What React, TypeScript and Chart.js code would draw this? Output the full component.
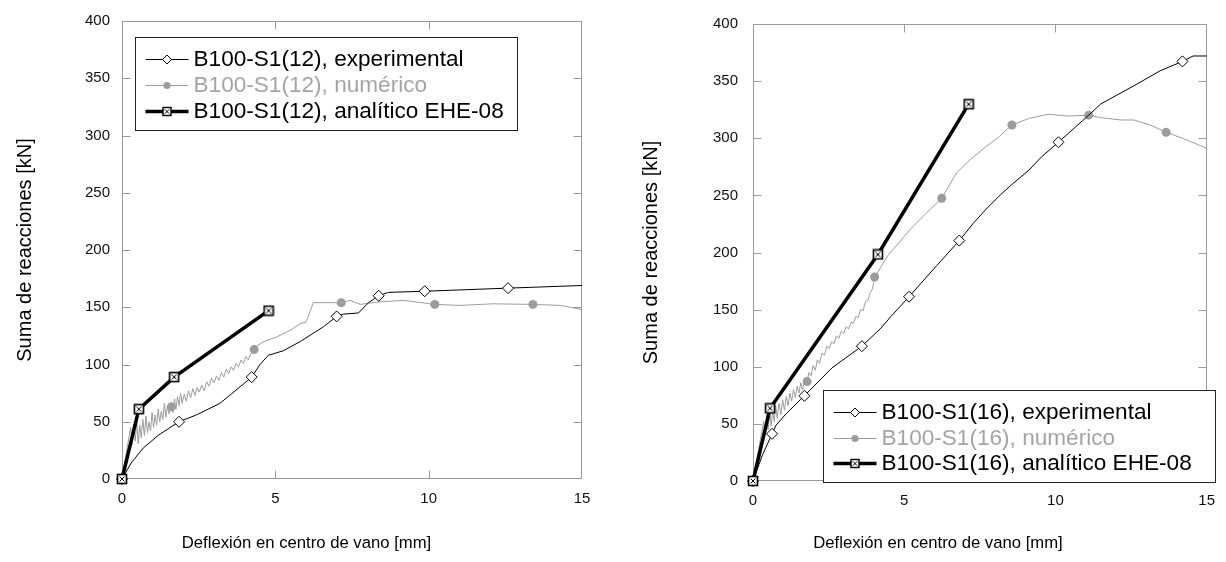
import React, { useEffect, useRef } from 'react';
import { Chart, registerables } from 'chart.js';

Chart.register(...registerables);

const FONT = "'Liberation Sans', Arial, Helvetica, sans-serif";

// ---------- shared axes ----------
const xTickValues = [0, 5, 10, 15];
const yTickValues = [0, 50, 100, 150, 200, 250, 300, 350, 400];
const xTitle = 'Deflexión en centro de vano [mm]';
const yTitle = 'Suma de reacciones [kN]';

// ---------- B100-S1(12) ----------
const labels12 = ['B100-S1(12), experimental', 'B100-S1(12), numérico', 'B100-S1(12), analítico EHE-08'];

const exp12X = [0, 0.3, 0.69, 1.2, 1.86, 2.43, 3.19, 3.85, 4.23, 4.5, 4.77, 5.26, 5.81, 6.57, 7.0, 7.22, 7.71, 8.04, 8.37, 8.69, 9.87, 12.59, 15];
const exp12Y = [0, 14, 27, 38.5, 50, 56, 66, 80.5, 89, 100, 108, 112, 120, 133, 142, 144, 145, 154, 160, 163, 164, 166.7, 169];
const exp12Marks = [0, 1.86, 4.23, 7.0, 8.37, 9.87, 12.59];

const num12X = [0, 0.28, 0.33, 0.38, 0.43, 0.48, 0.53, 0.58, 0.63, 0.68, 0.73, 0.78, 0.83, 0.88, 0.93, 0.98, 1.03, 1.08, 1.13, 1.18, 1.23, 1.28, 1.33, 1.38, 1.43, 1.48, 1.53, 1.61, 1.66, 1.71, 1.76, 1.81, 1.86, 1.91, 1.96, 2.03, 2.1, 2.17, 2.24, 2.31, 2.38, 2.45, 2.52, 2.6, 2.68, 2.76, 2.84, 2.92, 3.0, 3.08, 3.16, 3.24, 3.32, 3.4, 3.48, 3.56, 3.64, 3.72, 3.8, 3.88, 3.96, 4.04, 4.12, 4.2, 4.31, 4.4, 4.6, 5.04, 5.5, 5.81, 6.0, 6.24, 7.15, 7.44, 7.77, 8.31, 9.18, 10.2, 11.0, 12.1, 13.4, 14.3, 15];
const num12Y = [0, 45, 30, 48, 33, 50, 31, 47, 36, 52, 38, 55, 40, 50, 42, 58, 45, 56, 47, 61, 50, 59, 52, 66, 54, 64, 57, 63, 58, 70, 61, 72, 64, 75, 66, 74, 68, 77, 71, 79, 73, 80, 76, 82, 77, 85, 81, 88, 84, 90, 86, 93, 89, 96, 92, 98, 95, 101, 98, 104, 101, 107, 104, 110, 113, 116, 119.7, 124, 130, 135.7, 137, 154, 154, 156, 152.5, 154.5, 156, 152.5, 151.6, 153, 152.5, 151.6, 148];
const num12Marks = [1.61, 4.31, 7.15, 10.2, 13.4];

const ana12X = [0, 0.55, 1.7, 4.78];
const ana12Y = [0, 61, 89, 147];

// ---------- B100-S1(16) ----------
const labels16 = ['B100-S1(16), experimental', 'B100-S1(16), numérico', 'B100-S1(16), analítico EHE-08'];

const exp16X = [0, 0.3, 0.63, 0.76, 1.09, 1.7, 2.2, 2.61, 3.6, 4.23, 4.56, 5.16, 6.08, 6.82, 7.3, 7.71, 8.2, 8.58, 9.12, 9.55, 10.1, 11.1, 11.5, 12.6, 13.46, 14.2, 14.55, 15];
const exp16Y = [0, 22, 41.3, 48.8, 58.7, 74.6, 88, 99, 118, 133.8, 144, 161.3, 188.7, 210.4, 226, 238, 251, 260, 272, 284, 296.5, 320.2, 330, 346, 359, 367.3, 372, 372];
const exp16Marks = [0, 0.63, 1.7, 3.6, 5.16, 6.82, 10.1, 14.2];

const num16X = [0, 0.35, 0.4, 0.45, 0.5, 0.55, 0.6, 0.65, 0.7, 0.75, 0.8, 0.86, 0.92, 0.98, 1.04, 1.1, 1.16, 1.22, 1.28, 1.34, 1.4, 1.46, 1.52, 1.58, 1.64, 1.7, 1.79, 1.85, 1.92, 1.99, 2.06, 2.13, 2.2, 2.28, 2.36, 2.44, 2.52, 2.6, 2.68, 2.76, 2.84, 2.92, 3.0, 3.08, 3.16, 3.24, 3.32, 3.4, 3.48, 3.56, 3.64, 3.72, 3.8, 3.88, 3.95, 4.02, 4.2, 4.45, 5.21, 5.75, 6.24, 6.73, 7.17, 7.71, 8.14, 8.56, 9.12, 9.77, 10.42, 11.1, 11.5, 12.16, 12.6, 13.14, 13.66, 14.2, 15];
const num16Y = [0, 52, 40, 58, 45, 61, 48, 63, 52, 66, 55, 68, 58, 71, 62, 74, 66, 77, 70, 80, 73, 83, 77, 86, 80, 90, 87, 95, 92, 101, 97, 106, 103, 112, 110, 118, 116, 122, 120, 127, 125, 131, 129, 135, 133, 139, 138, 144, 143, 150, 149, 157, 158, 165, 168, 178.6, 186, 197, 220.5, 235, 247.4, 269.7, 281, 292.8, 301.4, 311.6, 317.3, 321, 319.4, 320.2, 318, 316, 316, 311.6, 305.2, 300, 291.3];
const num16Marks = [1.79, 4.02, 6.24, 8.56, 11.1, 13.66];

const ana16X = [0, 0.565, 4.13, 7.13];
const ana16Y = [0, 63.6, 198.3, 329.8];

// ---------- colours ----------
const BLACK = '#000000';
const GRAY = '#9c9c9c';
const GRAY_TEXT = '#a4a4a4';
const FRAME = '#9a9a9a';

// ---------- marker drawing ----------
function drawBoxX(ctx: CanvasRenderingContext2D, cx: number, cy: number, half: number, lw: number) {
  ctx.save();
  ctx.fillStyle = '#fff';
  ctx.fillRect(cx - half, cy - half, 2 * half, 2 * half);
  ctx.strokeStyle = '#000';
  ctx.lineWidth = lw;
  ctx.strokeRect(cx - half, cy - half, 2 * half, 2 * half);
  ctx.lineWidth = 1;
  const k = half * 0.55;
  ctx.beginPath();
  ctx.moveTo(cx - k, cy - k);
  ctx.lineTo(cx + k, cy + k);
  ctx.moveTo(cx + k, cy - k);
  ctx.lineTo(cx - k, cy + k);
  ctx.stroke();
  ctx.restore();
}

function makeBoxXImage(size: number) {
  const c = document.createElement('canvas');
  c.width = size;
  c.height = size;
  const g = c.getContext('2d') as CanvasRenderingContext2D;
  drawBoxX(g, size / 2, size / 2, size / 2 - 1.5, 1.6);
  return c;
}

function drawLegendMarker(ctx: CanvasRenderingContext2D, kind: string, x: number, y: number) {
  ctx.save();
  if (kind === 'diamond') {
    const s = 4.5;
    ctx.beginPath();
    ctx.moveTo(x - s, y);
    ctx.lineTo(x, y - s);
    ctx.lineTo(x + s, y);
    ctx.lineTo(x, y + s);
    ctx.closePath();
    ctx.fillStyle = '#fff';
    ctx.fill();
    ctx.strokeStyle = '#000';
    ctx.lineWidth = 1;
    ctx.stroke();
  } else if (kind === 'dot') {
    ctx.beginPath();
    ctx.arc(x, y, 3.6, 0, Math.PI * 2);
    ctx.fillStyle = GRAY;
    ctx.fill();
  } else if (kind === 'boxx') {
    drawBoxX(ctx, x, y, 4, 1.4);
  }
  ctx.restore();
}

// ---------- plugins ----------
const framePlugin = {
  id: 'frame',
  beforeDatasetsDraw(chart: any, _args: any, o: any) {
    const { ctx, chartArea: a, scales } = chart;
    ctx.save();
    ctx.strokeStyle = FRAME;
    ctx.lineWidth = 1;
    const L = Math.round(a.left) + 0.5;
    const R = Math.round(a.right) - 0.5;
    const T = Math.round(a.top) + 0.5;
    const B = Math.round(a.bottom) - 0.5;
    ctx.strokeRect(L, T, R - L, B - T);
    const tl = 8;
    ctx.beginPath();
    for (const t of scales.y.ticks) {
      if (t.value <= scales.y.min || t.value >= scales.y.max) continue;
      const py = Math.round(scales.y.getPixelForValue(t.value)) + 0.5;
      ctx.moveTo(L, py);
      ctx.lineTo(L + tl, py);
      ctx.moveTo(R, py);
      ctx.lineTo(R - tl, py);
    }
    for (const t of scales.x.ticks) {
      if (t.value <= scales.x.min || t.value >= scales.x.max) continue;
      const px = Math.round(scales.x.getPixelForValue(t.value)) + 0.5;
      ctx.moveTo(px, B);
      ctx.lineTo(px, B - tl);
      ctx.moveTo(px, T);
      ctx.lineTo(px, T + tl);
    }
    ctx.stroke();
    ctx.fillStyle = '#000';
    ctx.font = `16.7px ${FONT}`;
    ctx.textAlign = 'center';
    ctx.textBaseline = 'middle';
    ctx.fillText(xTitle, a.left + o.titleDx, o.titleY);
    ctx.restore();
  },
};

const boxLegendPlugin = {
  id: 'boxLegend',
  afterDatasetsDraw(chart: any, _args: any, o: any) {
    const { ctx, chartArea: a } = chart;
    const bx = Math.round(a.left + o.dx) + 0.5;
    const by = Math.round(a.top + o.dy) + 0.5;
    ctx.save();
    ctx.fillStyle = '#fff';
    ctx.fillRect(bx, by, o.w, o.h);
    ctx.strokeStyle = '#222';
    ctx.lineWidth = 1;
    ctx.strokeRect(bx, by, o.w, o.h);
    ctx.font = `22.6px ${FONT}`;
    ctx.textBaseline = 'middle';
    ctx.textAlign = 'left';
    chart.data.datasets.forEach((ds: any, i: number) => {
      const cy = Math.round(by + o.rows[i]) + 0.5;
      ctx.strokeStyle = ds.borderColor;
      ctx.lineWidth = ds.borderWidth;
      ctx.beginPath();
      ctx.moveTo(bx + 10, cy);
      ctx.lineTo(bx + 53, cy);
      ctx.stroke();
      drawLegendMarker(ctx, ds.marker, bx + 31.5, cy);
      ctx.fillStyle = ds.legendColor;
      ctx.fillText(ds.label, bx + 58, cy + 0.5);
    });
    ctx.restore();
  },
};

// ---------- config ----------
type Spec = {
  pageLeft: number;
  canvasW: number;
  padTop: number;
  padRight: number;
  yAxisW: number;
  xAxisH: number;
  yTickPad: number;
  yTitlePad: number;
  titleDx: number;
  titleY: number;
  legend: { dx: number; dy: number; w: number; h: number; rows: number[] };
  labels: string[];
  expX: number[]; expY: number[]; expMarks: number[];
  numX: number[]; numY: number[]; numMarks: number[];
  anaX: number[]; anaY: number[];
};

const pts = (xs: number[], ys: number[]) => xs.map((x, i) => ({ x, y: ys[i] }));
const radii = (xs: number[], marks: number[], r: number) => xs.map((x) => (marks.includes(x) ? r : 0));

function buildConfig(s: Spec): any {
  const boxImg = makeBoxXImage(12);
  return {
    type: 'line',
    data: {
      datasets: [
        {
          label: s.labels[0],
          marker: 'diamond',
          legendColor: BLACK,
          data: pts(s.expX, s.expY),
          borderColor: BLACK,
          borderWidth: 1,
          tension: 0,
          pointStyle: 'rectRot',
          pointRadius: radii(s.expX, s.expMarks, 5.5),
          pointBackgroundColor: '#ffffff',
          pointBorderColor: BLACK,
          pointBorderWidth: 1,
          clip: false,
          order: 1,
        },
        {
          label: s.labels[1],
          marker: 'dot',
          legendColor: GRAY_TEXT,
          data: pts(s.numX, s.numY),
          borderColor: GRAY,
          borderWidth: 1,
          tension: 0,
          pointStyle: 'circle',
          pointRadius: radii(s.numX, s.numMarks, 4.5),
          pointBackgroundColor: GRAY,
          pointBorderColor: GRAY,
          pointBorderWidth: 0,
          clip: false,
          order: 2,
        },
        {
          label: s.labels[2],
          marker: 'boxx',
          legendColor: BLACK,
          data: pts(s.anaX, s.anaY),
          borderColor: BLACK,
          borderWidth: 3.5,
          tension: 0,
          pointStyle: boxImg,
          pointRadius: 5,
          clip: false,
          order: 0,
        },
      ],
    },
    options: {
      responsive: false,
      animation: false,
      devicePixelRatio: 1,
      events: [],
      layout: { padding: { left: 0, top: s.padTop, right: s.padRight, bottom: 0 } },
      plugins: {
        legend: { display: false },
        tooltip: { enabled: false },
        frame: { titleDx: s.titleDx, titleY: s.titleY },
        boxLegend: s.legend,
      },
      scales: {
        x: {
          type: 'linear',
          min: 0,
          max: 15,
          afterBuildTicks: (sc: any) => {
            sc.ticks = xTickValues.map((v) => ({ value: v }));
          },
          afterFit: (sc: any) => {
            sc.height = s.xAxisH;
          },
          grid: { display: false, drawTicks: false },
          border: { display: false },
          ticks: { color: '#111', font: { family: FONT, size: 15 }, padding: 11, maxRotation: 0, autoSkip: false },
        },
        y: {
          type: 'linear',
          min: 0,
          max: 400,
          afterBuildTicks: (sc: any) => {
            sc.ticks = yTickValues.map((v) => ({ value: v }));
          },
          afterFit: (sc: any) => {
            sc.width = s.yAxisW;
          },
          grid: { display: false, drawTicks: false },
          border: { display: false },
          ticks: { color: '#111', font: { family: FONT, size: 15 }, padding: s.yTickPad, autoSkip: false },
          title: {
            display: true,
            text: yTitle,
            color: '#000',
            font: { family: FONT, size: 20 },
            padding: { top: s.yTitlePad, bottom: 0 },
          },
        },
      },
    },
    plugins: [framePlugin, boxLegendPlugin],
  };
}

const spec12: Spec = {
  pageLeft: 0,
  canvasW: 613,
  padTop: 19,
  padRight: 31,
  yAxisW: 122,
  xAxisH: 83,
  yTickPad: 12,
  yTitlePad: 13,
  titleDx: 184.5,
  titleY: 543,
  legend: { dx: 13, dy: 16, w: 382, h: 93, rows: [21, 47.3, 73.3] },
  labels: labels12,
  expX: exp12X, expY: exp12Y, expMarks: exp12Marks,
  numX: num12X, numY: num12Y, numMarks: num12Marks,
  anaX: ana12X, anaY: ana12Y,
};

const spec16: Spec = {
  pageLeft: 613,
  canvasW: 613,
  padTop: 20,
  padRight: 13,
  yAxisW: 140,
  xAxisH: 81,
  yTickPad: 15,
  yTitlePad: 26.7,
  titleDx: 185,
  titleY: 543,
  legend: { dx: 70, dy: 366, w: 392, h: 92, rows: [21.3, 47.3, 72.7] },
  labels: labels16,
  expX: exp16X, expY: exp16Y, expMarks: exp16Marks,
  numX: num16X, numY: num16Y, numMarks: num16Marks,
  anaX: ana16X, anaY: ana16Y,
};

function Panel({ spec }: { spec: Spec }) {
  const ref = useRef<HTMLCanvasElement | null>(null);
  useEffect(() => {
    if (!ref.current) return;
    const chart = new Chart(ref.current, buildConfig(spec));
    return () => chart.destroy();
  }, [spec]);
  return (
    <canvas
      ref={ref}
      width={spec.canvasW}
      height={562}
      style={{ position: 'absolute', left: spec.pageLeft, top: 0, width: spec.canvasW, height: 562 }}
    />
  );
}

export default function App() {
  return (
    <div
      style={{
        position: 'absolute',
        left: 0,
        top: 0,
        width: 1226,
        height: 562,
        overflow: 'hidden',
        background: '#ffffff',
      }}
    >
      <Panel spec={spec12} />
      <Panel spec={spec16} />
    </div>
  );
}
